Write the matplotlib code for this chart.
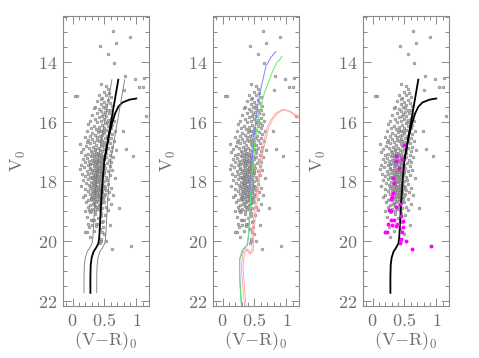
import matplotlib.pyplot as plt
import numpy as np
from matplotlib.ticker import MultipleLocator, FuncFormatter

plt.rcParams['mathtext.fontset'] = 'cm'

# field stars: (V-R)_0, V_0
field_stars = [
    # bright outliers
    (0.636, 12.98), (0.897, 13.17), (0.68, 13.37), (0.426, 13.46), (0.554, 13.73),
    (0.656, 14.04), (0.826, 14.47), (0.98, 14.58), (1.118, 14.55), (1.05, 14.85),
    (1.10, 14.85), (0.81, 14.96), (0.04, 15.16), (0.077, 15.16), (1.15, 15.8),
    (0.79, 16.3), (0.836, 16.92), (0.954, 17.14), (0.73, 18.88),
    # 14.7 - 15.5
    (0.45, 14.75), (0.52, 14.82), (0.55, 14.9), (0.49, 15.0), (0.57, 15.05), (0.42, 15.1),
    (0.53, 15.12), (0.60, 15.18), (0.47, 15.22), (0.55, 15.28), (0.39, 15.3), (0.50, 15.35),
    (0.58, 15.38), (0.44, 15.42), (0.53, 15.45), (0.62, 15.48), (0.36, 15.5), (0.48, 15.52),
    # 15.5 - 16.0
    (0.33, 15.55), (0.41, 15.58), (0.55, 15.6), (0.60, 15.62), (0.45, 15.65), (0.51, 15.68),
    (0.38, 15.7), (0.57, 15.72), (0.63, 15.75), (0.30, 15.78), (0.47, 15.8), (0.53, 15.82),
    (0.42, 15.85), (0.60, 15.87), (0.36, 15.9), (0.50, 15.92), (0.56, 15.95), (0.27, 15.97),
    (0.44, 15.98), (0.65, 15.99),
    # 16.0 - 16.5
    (0.39, 16.02), (0.52, 16.04), (0.58, 16.06), (0.25, 16.08), (0.46, 16.1), (0.62, 16.12),
    (0.33, 16.14), (0.55, 16.15), (0.42, 16.18), (0.49, 16.2), (0.29, 16.22), (0.60, 16.23),
    (0.37, 16.25), (0.53, 16.27), (0.45, 16.3), (0.66, 16.31), (0.22, 16.33), (0.40, 16.35),
    (0.57, 16.36), (0.31, 16.38), (0.50, 16.4), (0.62, 16.42), (0.35, 16.44), (0.47, 16.45),
    (0.27, 16.47), (0.54, 16.48), (0.43, 16.49),
    # 16.5 - 17.0
    (0.19, 16.52), (0.38, 16.53), (0.51, 16.54), (0.60, 16.56), (0.30, 16.58), (0.45, 16.6),
    (0.56, 16.61), (0.24, 16.63), (0.41, 16.65), (0.65, 16.66), (0.34, 16.68), (0.49, 16.7),
    (0.27, 16.72), (0.58, 16.73), (0.44, 16.75), (0.11, 16.76), (0.37, 16.78), (0.53, 16.79),
    (0.21, 16.81), (0.47, 16.82), (0.62, 16.84), (0.32, 16.85), (0.40, 16.87), (0.56, 16.88),
    (0.26, 16.9), (0.50, 16.91), (0.17, 16.93), (0.43, 16.94), (0.35, 16.96), (0.60, 16.97),
    (0.29, 16.98), (0.46, 16.99), (0.68, 16.95), (0.22, 16.7),
    # 17.0 - 17.5
    (0.14, 17.02), (0.31, 17.03), (0.40, 17.04), (0.52, 17.05), (0.25, 17.07), (0.45, 17.08),
    (0.36, 17.1), (0.58, 17.11), (0.20, 17.12), (0.48, 17.14), (0.29, 17.15), (0.41, 17.16),
    (0.64, 17.17), (0.34, 17.19), (0.53, 17.2), (0.23, 17.21), (0.44, 17.22), (0.38, 17.24),
    (0.16, 17.25), (0.50, 17.26), (0.30, 17.27), (0.57, 17.28), (0.42, 17.3), (0.26, 17.31),
    (0.35, 17.32), (0.47, 17.34), (0.61, 17.35), (0.20, 17.36), (0.39, 17.38), (0.32, 17.39),
    (0.54, 17.4), (0.28, 17.42), (0.45, 17.43), (0.13, 17.44), (0.37, 17.45), (0.49, 17.46),
    (0.24, 17.47), (0.41, 17.48), (0.58, 17.49), (0.33, 17.5), (0.30, 17.13), (0.37, 17.06),
    (0.43, 17.36), (0.27, 17.41),
    # 17.5 - 18.0
    (0.18, 17.52), (0.44, 17.53), (0.36, 17.54), (0.51, 17.55), (0.27, 17.57), (0.40, 17.58),
    (0.11, 17.6), (0.31, 17.61), (0.47, 17.62), (0.62, 17.63), (0.22, 17.65), (0.38, 17.66),
    (0.55, 17.67), (0.34, 17.69), (0.43, 17.7), (0.29, 17.71), (0.49, 17.72), (0.15, 17.74),
    (0.39, 17.75), (0.25, 17.76), (0.45, 17.78), (0.58, 17.79), (0.33, 17.8), (0.41, 17.82),
    (0.20, 17.83), (0.52, 17.84), (0.36, 17.86), (0.28, 17.87), (0.46, 17.88), (0.66, 17.89),
    (0.31, 17.9), (0.42, 17.92), (0.24, 17.93), (0.38, 17.94), (0.54, 17.95), (0.17, 17.96),
    (0.44, 17.97), (0.34, 17.98), (0.49, 17.99), (0.27, 17.6), (0.41, 17.64), (0.37, 17.81),
    (0.46, 17.68),
    # 18.0 - 18.5
    (0.29, 18.01), (0.40, 18.02), (0.47, 18.04), (0.21, 18.05), (0.36, 18.07), (0.55, 18.08),
    (0.32, 18.1), (0.43, 18.11), (0.26, 18.13), (0.50, 18.14), (0.38, 18.15), (0.14, 18.17),
    (0.45, 18.18), (0.34, 18.2), (0.60, 18.21), (0.28, 18.22), (0.41, 18.24), (0.19, 18.25),
    (0.48, 18.27), (0.36, 18.28), (0.53, 18.3), (0.30, 18.31), (0.44, 18.32), (0.24, 18.34),
    (0.39, 18.35), (0.57, 18.37), (0.33, 18.38), (0.46, 18.4), (0.27, 18.41), (0.42, 18.43),
    (0.51, 18.44), (0.20, 18.45), (0.37, 18.47), (0.31, 18.48), (0.49, 18.49), (0.64, 18.46),
    (0.35, 18.12), (0.42, 18.36),
    # 18.5 - 19.0
    (0.16, 18.52), (0.40, 18.53), (0.29, 18.55), (0.47, 18.56), (0.35, 18.58), (0.55, 18.6),
    (0.25, 18.62), (0.43, 18.63), (0.38, 18.66), (0.50, 18.68), (0.21, 18.7), (0.33, 18.72),
    (0.45, 18.74), (0.60, 18.76), (0.28, 18.78), (0.41, 18.8), (0.36, 18.83), (0.52, 18.85),
    (0.24, 18.87), (0.46, 18.89), (0.31, 18.92), (0.39, 18.94), (0.56, 18.96), (0.19, 18.98),
    # 19.0 - 20.0
    (0.27, 19.02), (0.44, 19.05), (0.35, 19.1), (0.51, 19.14), (0.23, 19.2), (0.40, 19.24),
    (0.30, 19.3), (0.47, 19.36), (0.37, 19.42), (0.58, 19.46), (0.26, 19.52), (0.43, 19.58),
    (0.33, 19.66), (0.50, 19.75), (0.28, 19.85), (0.45, 19.98),
    # dense core of the sequence
    (0.44, 15.25), (0.51, 15.55), (0.48, 15.75), (0.54, 16.0), (0.41, 16.28), (0.48, 16.33),
    (0.39, 16.62), (0.46, 16.66), (0.52, 16.96), (0.36, 16.92), (0.42, 17.11), (0.47, 17.19),
    (0.33, 17.27), (0.40, 17.33), (0.44, 17.4), (0.36, 17.43), (0.42, 17.55), (0.47, 17.57),
    (0.33, 17.63), (0.39, 17.7), (0.44, 17.74), (0.36, 17.77), (0.48, 17.8), (0.40, 17.87),
    (0.34, 17.92), (0.45, 17.93), (0.39, 18.0), (0.43, 18.06), (0.33, 18.05), (0.47, 18.12),
    (0.40, 18.18), (0.37, 18.22), (0.44, 18.26), (0.32, 18.27), (0.40, 18.3), (0.47, 18.33),
    (0.36, 18.37), (0.43, 18.45), (0.39, 18.5), (0.45, 18.52), (0.34, 18.54), (0.42, 18.6),
    (0.37, 18.69), (0.44, 18.7), (0.32, 18.76), (0.40, 18.86), (0.43, 18.95), (0.35, 18.99),
    (0.30, 17.84), (0.29, 18.16), (0.50, 17.65), (0.51, 18.2), (0.48, 18.58), (0.31, 18.62),
]

# highlighted stars (magenta in the right panel)
selected_stars = [
    (0.49, 16.8), (0.364, 17.15), (0.374, 17.33), (0.467, 17.26), (0.41, 17.56),
    (0.323, 17.88), (0.338, 18.04), (0.323, 18.38), (0.313, 18.51), (0.287, 18.6),
    (0.426, 18.76), (0.26, 18.96), (0.287, 18.99), (0.374, 18.87), (0.44, 19.16),
    (0.287, 19.3), (0.333, 19.3), (0.477, 19.32), (0.236, 19.43), (0.30, 19.46),
    (0.364, 19.49), (0.405, 19.43), (0.477, 19.53), (0.20, 19.71), (0.22, 19.71),
    (0.462, 19.69), (0.44, 19.94), (0.518, 19.99), (0.426, 20.06), (0.62, 20.28),
    (0.92, 20.16),
]

# black isochrone, main sequence + steep branch
iso_vr = [0.28, 0.28, 0.285, 0.30, 0.33, 0.37, 0.405, 0.418, 0.426, 0.451, 0.475, 0.50,
          0.54, 0.58, 0.625, 0.67, 0.718]
iso_v = [21.73, 21.2, 20.8, 20.55, 20.35, 20.22, 20.08, 19.9, 19.63, 18.63, 17.9, 17.28,
         16.8, 16.3, 15.75, 15.2, 14.6]
# black isochrone, curved giant branch
rgb_vr = [0.50, 0.53, 0.57, 0.62, 0.67, 0.72, 0.785, 0.89, 1.0]
rgb_v = [17.28, 16.95, 16.5, 16.05, 15.72, 15.5, 15.36, 15.27, 15.23]
iso_offset = 0.1

# coloured isochrones (middle panel)
blue_vr = [0.303, 0.275, 0.268, 0.27, 0.319, 0.39, 0.412, 0.423, 0.435, 0.45, 0.49, 0.535,
           0.585, 0.68, 0.76, 0.834]
blue_v = [22.3, 21.4, 20.9, 20.6, 20.3, 20.13, 19.73, 19.17, 18.6, 17.7, 16.6, 15.72,
          15.05, 14.16, 13.85, 13.66]
green_vr = [0.30, 0.272, 0.265, 0.268, 0.31, 0.385, 0.41, 0.425, 0.44, 0.465, 0.515, 0.577,
            0.655, 0.785, 0.86, 0.89, 0.93]
green_v = [22.3, 21.4, 20.9, 20.6, 20.3, 20.12, 19.73, 19.17, 18.6, 17.7, 16.6, 15.72,
           15.05, 14.32, 13.99, 13.96, 13.82]
red_vr = [0.35, 0.31, 0.295, 0.32, 0.37, 0.42, 0.46, 0.465, 0.50, 0.53, 0.57, 0.61, 0.655,
          0.70, 0.758, 0.836, 0.94, 1.04, 1.25]
red_v = [22.3, 21.3, 20.85, 20.4, 20.26, 20.42, 20.3, 19.7, 19.0, 18.5, 17.7, 17.0, 16.6,
         16.2, 15.94, 15.72, 15.6, 15.66, 15.95]
red_split = 0.025

text_color = '#6e6e6e'
frame_color = '#8a8a8a'
star_face = '#a8a8a8'
star_edge = '#6a6a6a'

fx, fy = np.array(field_stars).T
sx, sy = np.array(selected_stars).T

fig = plt.figure(figsize=(4.79, 3.58), dpi=100)
lefts = [63 / 479, 213 / 479, 363 / 479]
axes = [fig.add_axes([l, 52 / 358, 86 / 479, 290 / 358]) for l in lefts]


def style_axis(ax):
    ax.set_xlim(-0.15, 1.2)
    ax.set_ylim(22.17, 12.47)
    ax.xaxis.set_major_locator(MultipleLocator(0.5))
    ax.xaxis.set_minor_locator(MultipleLocator(0.1))
    ax.yaxis.set_major_locator(MultipleLocator(2))
    ax.yaxis.set_minor_locator(MultipleLocator(0.5))
    ax.xaxis.set_major_formatter(FuncFormatter(lambda v, p: '$%g$' % v))
    ax.yaxis.set_major_formatter(FuncFormatter(lambda v, p: '$%d$' % round(v)))
    ax.tick_params(which='both', direction='in', top=True, right=True,
                   color=frame_color, labelcolor=text_color, labelsize=13, width=0.7)
    ax.tick_params(which='major', length=6, pad=4)
    ax.tick_params(which='minor', length=3)
    for s in ax.spines.values():
        s.set_color(frame_color)
        s.set_linewidth(0.8)
    ax.set_xlabel(r'$\mathrm{(V{-}R)_0}$', color=text_color, fontsize=13, labelpad=0)
    ax.set_ylabel(r'$\mathrm{V_0}$', color=text_color, fontsize=13, labelpad=7)


def plot_stars(ax, x, y):
    ax.scatter(x, y, s=4, facecolor=star_face, edgecolor=star_edge, linewidths=0.4,
               alpha=0.8, zorder=2)


for ax in axes:
    style_axis(ax)
    plot_stars(ax, fx, fy)

# left panel
ax = axes[0]
plot_stars(ax, sx, sy)
ax.plot(iso_vr, iso_v, color='black', lw=1.3, zorder=3)
ax.plot(rgb_vr, rgb_v, color='black', lw=1.3, zorder=3)
ax.plot(np.array(iso_vr) - iso_offset, iso_v, color='#7a7a7a', lw=0.6, zorder=3)
ax.plot(np.array(iso_vr) + iso_offset, iso_v, color='#7a7a7a', lw=0.6, zorder=3)

# middle panel
ax = axes[1]
plot_stars(ax, sx, sy)
ax.plot(blue_vr, blue_v, color='#8080ff', lw=0.7, zorder=3)
ax.plot(green_vr, green_v, color='#60ee60', lw=0.7, zorder=3)
ax.plot(red_vr, red_v, color='#ffa0a0', lw=0.6, zorder=3)
ax.plot(np.array(red_vr) + red_split, red_v, color='#ffa0a0', lw=0.6, zorder=3)

# right panel
ax = axes[2]
ax.scatter(sx, sy, s=8, color='#ff00ff', linewidths=0, zorder=4)
ax.plot(iso_vr, iso_v, color='black', lw=1.3, zorder=3)
ax.plot(rgb_vr, rgb_v, color='black', lw=1.3, zorder=3)

fig.savefig('out.png', dpi=100)
